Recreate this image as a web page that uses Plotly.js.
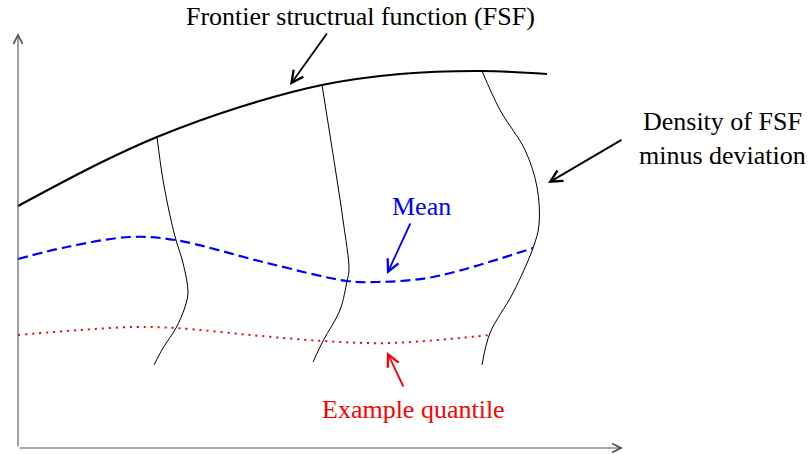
<!DOCTYPE html>
<html>
<head>
<meta charset="utf-8">
<script src="https://cdn.plot.ly/plotly-3.0.1.min.js"></script>
<style>
  html, body { margin: 0; padding: 0; background: #fff; }
  #plot { width: 809px; height: 454px; }
</style>
</head>
<body>
<div id="plot"></div>
<script>
// diagram units: origin at the corner of the axes, y upwards
var fsfX = [0, 82, 139, 222, 304, 382, 464, 529];
var fsfY = [242, 285, 311, 341, 363, 374, 377, 374];

var meanX = [0, 49, 112, 157, 249, 329, 359, 415, 515];
var meanY = [189, 201, 211, 208, 185, 167, 166, 171, 200];

var quantX = [0, 62, 117, 158, 232, 305, 372, 472];
var quantY = [113, 118, 121, 120, 113, 107, 105, 113];

var dens1X = [139, 145, 153, 158, 165, 170, 167, 158, 145, 136];
var dens1Y = [311, 268, 228, 208, 185, 156, 141, 120, 100, 83];

var dens2X = [304, 317, 325, 331, 329, 322, 305, 295];
var dens2Y = [363, 281, 228, 178, 167, 138, 107, 86];

var dens3X = [464, 482, 507, 519, 521, 515, 495, 472, 464];
var dens3Y = [377, 338, 298, 261, 223, 200, 155, 115, 83];

var axisEnd = [605, 415];

var labels = ['Frontier structrual function (FSF)', 'Density of FSF<br>minus deviation', 'Mean', 'Example quantile'];
var labelPos = [[342, 432], [704, 310], [403, 242], [395, 39]];
var arrowTail = [[310, 416], [605, 309], [393, 226], [386, 60]];
var arrowHead = [[272, 363], [530, 265], [369, 174], [369, 96]];
var labelColor = ['#000000', '#000000', '#0000ff', '#ff0000'];

var serif = 'Liberation Serif';

function densTrace(xs, ys) {
  return {
    x: xs, y: ys, mode: 'lines', hoverinfo: 'skip',
    line: {color: '#000', width: 1, shape: 'spline', smoothing: 1}
  };
}

var data = [
  densTrace(dens1X, dens1Y),
  densTrace(dens2X, dens2Y),
  densTrace(dens3X, dens3Y),
  {x: fsfX, y: fsfY, mode: 'lines', hoverinfo: 'skip',
   line: {color: '#000', width: 2.2, shape: 'spline', smoothing: 1}},
  {x: meanX, y: meanY, mode: 'lines', hoverinfo: 'skip',
   line: {color: '#0000ff', width: 2.2, dash: '10px,5px', shape: 'spline', smoothing: 1}},
  {x: quantX, y: quantY, mode: 'lines', hoverinfo: 'skip',
   line: {color: '#ff0000', width: 2, dash: '2px,5px', shape: 'spline', smoothing: 1}}
];

var annotations = [];
// axes with arrow tips
annotations.push({x: axisEnd[0], y: 0, ax: 0, ay: 0, xref: 'x', yref: 'y', axref: 'x', ayref: 'y',
  text: '', showarrow: true, arrowhead: 5, arrowsize: 1.6, arrowwidth: 1.1, arrowcolor: '#555', standoff: 0});
annotations.push({x: 0, y: axisEnd[1], ax: 0, ay: 0, xref: 'x', yref: 'y', axref: 'x', ayref: 'y',
  text: '', showarrow: true, arrowhead: 5, arrowsize: 1.6, arrowwidth: 1.1, arrowcolor: '#555', standoff: 0});

for (var i = 0; i < labels.length; i++) {
  annotations.push({
    x: labelPos[i][0], y: labelPos[i][1], xref: 'x', yref: 'y',
    text: labels[i], showarrow: false, xanchor: 'center', yanchor: 'middle',
    font: {family: serif, size: 26, color: labelColor[i]}
  });
  annotations.push({
    x: arrowHead[i][0], y: arrowHead[i][1], ax: arrowTail[i][0], ay: arrowTail[i][1],
    xref: 'x', yref: 'y', axref: 'x', ayref: 'y',
    text: '', showarrow: true, arrowhead: 5, arrowsize: 1.3, arrowwidth: 1.8,
    arrowcolor: labelColor[i], standoff: 0
  });
}

var layout = {
  width: 809,
  height: 454,
  margin: {l: 0, r: 0, t: 0, b: 0},
  paper_bgcolor: '#fff',
  plot_bgcolor: '#fff',
  showlegend: false,
  xaxis: {range: [-18, 791], visible: false, fixedrange: true},
  yaxis: {range: [-6, 448], visible: false, fixedrange: true},
  annotations: annotations
};

Plotly.newPlot('plot', data, layout, {displayModeBar: false, staticPlot: true});
</script>
</body>
</html>
